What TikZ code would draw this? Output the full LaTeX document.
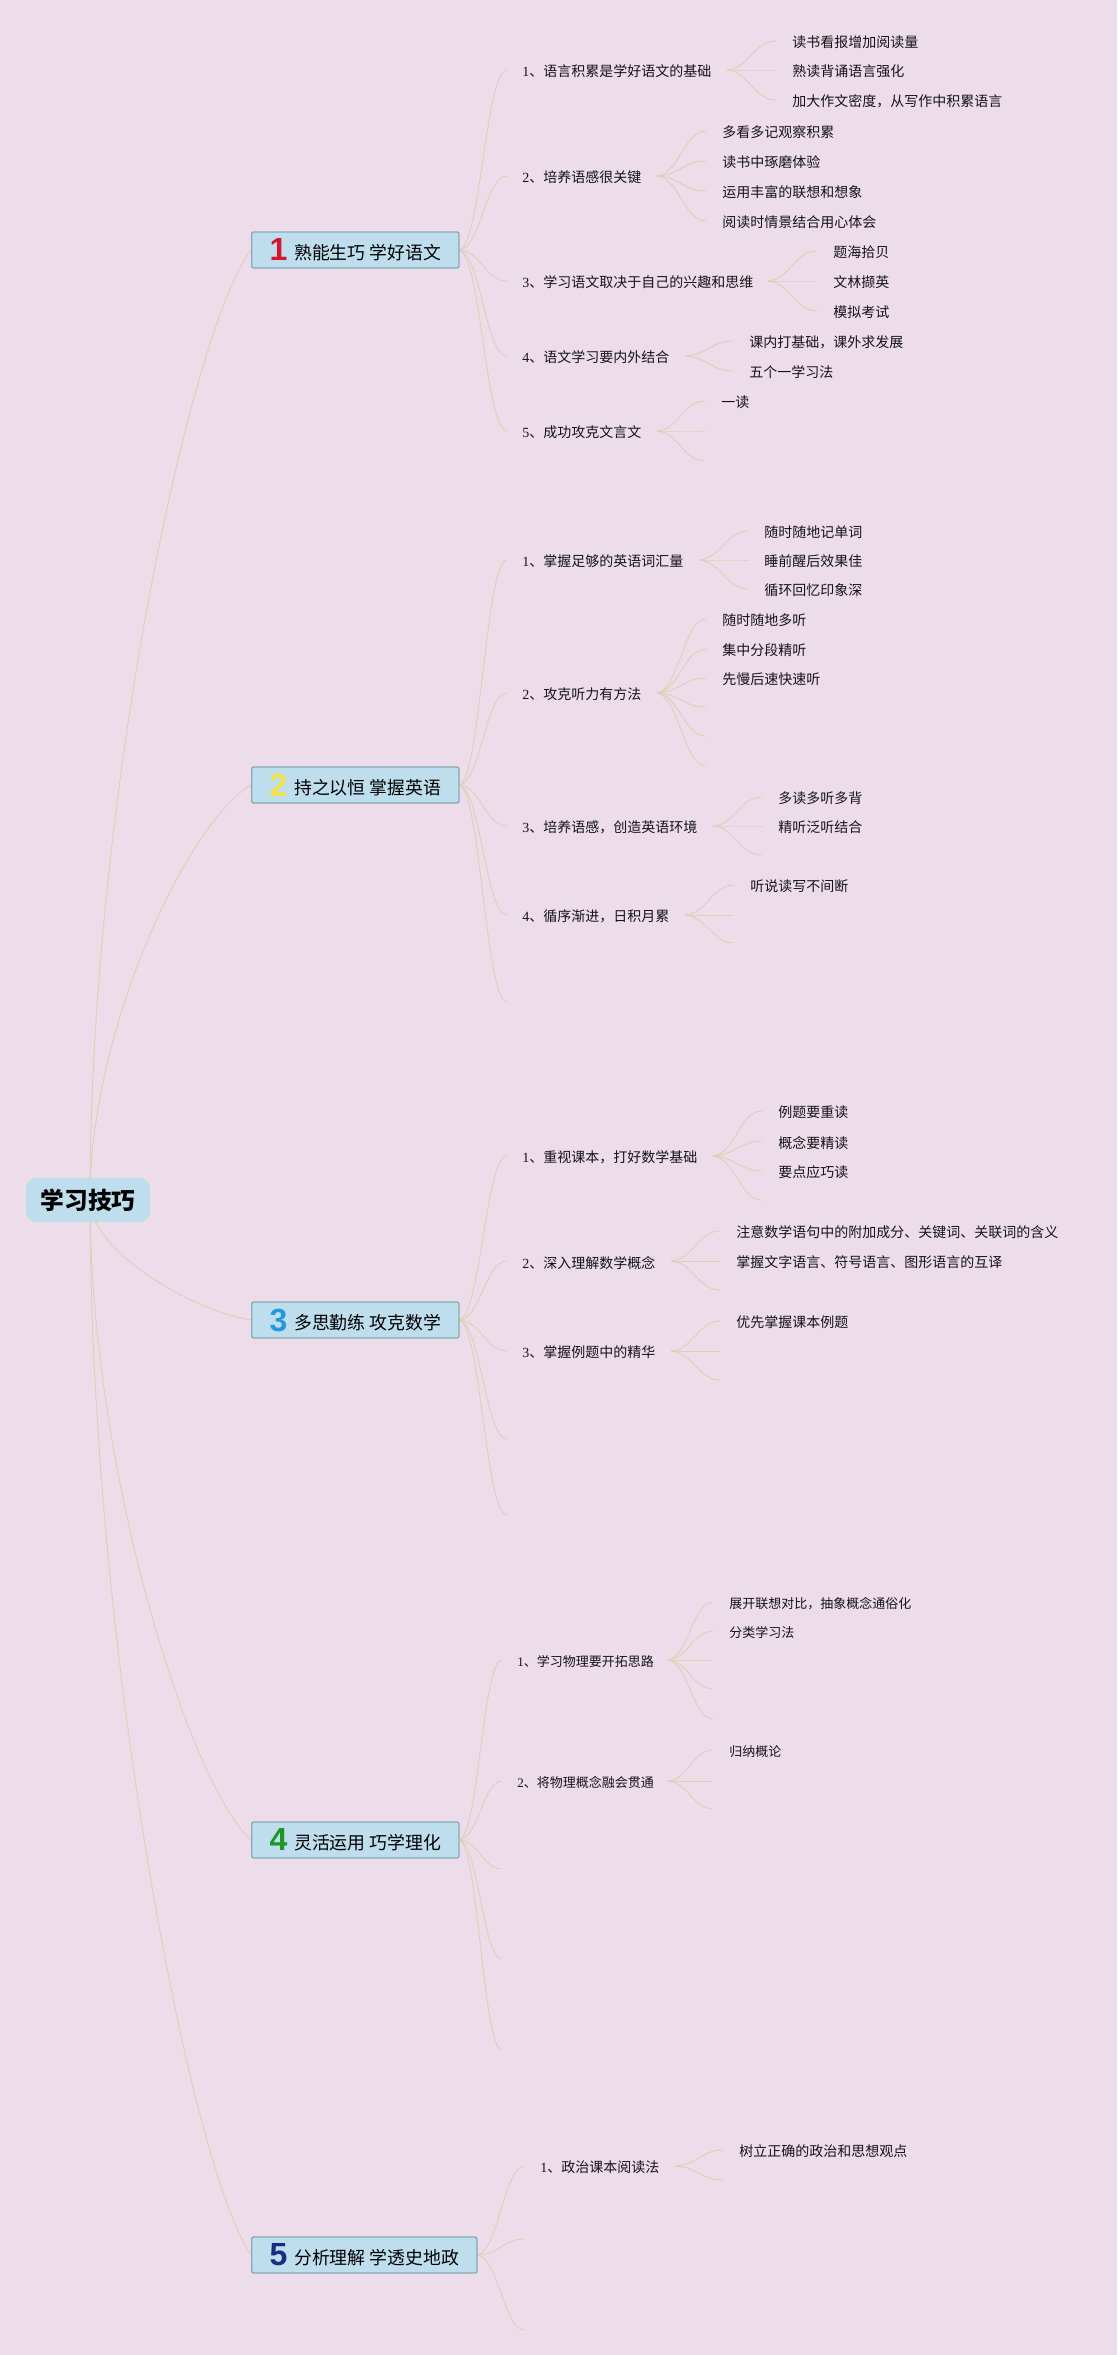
\documentclass[tikz,border=0pt]{standalone}
\usepackage{fontspec}
\setmainfont{Liberation Serif}
\newfontfamily\cjk{Noto Sans CJK SC}
\newfontfamily\numfont{Liberation Sans}
\usetikzlibrary{calc}
\pgfdeclarelayer{bg}
\pgfdeclarelayer{paper}
\pgfsetlayers{paper,bg,main}
\definecolor{bgc}{RGB}{237,221,235}
\definecolor{linec}{RGB}{226,206,180}
\definecolor{boxc}{RGB}{190,222,238}
\definecolor{boxb}{RGB}{132,170,182}
\definecolor{nA}{RGB}{214,22,48}
\definecolor{nB}{RGB}{245,226,72}
\definecolor{nC}{RGB}{36,152,220}
\definecolor{nD}{RGB}{28,150,40}
\definecolor{nE}{RGB}{24,44,128}
\definecolor{txt}{RGB}{20,20,20}
\newcommand\lnum[1]{{\rmfamily #1}}
\newcommand\bnum[2]{{\numfont\bfseries\fontsize{24}{24}\selectfont\color{#1}\raisebox{-1pt}{#2}}\hspace{5pt}}
\newcommand\cx[2]{\draw[conn] let \p1=(#1), \p2=(#2) in (\p1) .. controls ({\x1+0.45*(\x2-\x1)},{\y1+0.05*(\y2-\y1)}) and ({\x1+0.55*(\x2-\x1)},\y2) .. (\p2);}
\newcommand\rx[2]{\draw[conn] let \p1=(#1), \p2=(#2) in (\p1) .. controls (\x1,{\y1+0.42*(\y2-\y1)}) and ({\x1+0.62*(\x2-\x1)},{\y2-0.085*(\y2-\y1)}) .. (\p2);}
\newcommand\kid[5]{\coordinate (#1) at (#3,#4); \node[leaf] (#1t) at ({#3+16},#4) {#5}; \begin{pgfonlayer}{bg}\cx{#2}{#1}\end{pgfonlayer}}
\newcommand\ekid[4]{\coordinate (#1) at (#3,#4); \begin{pgfonlayer}{bg}\cx{#2}{#1}\end{pgfonlayer}}
\tikzset{
  rootbox/.style={fill=boxc, rounded corners=7.5pt, minimum width=93pt, minimum height=33pt, inner sep=0pt, font=\cjk\bfseries\fontsize{17.8}{20}\selectfont, text=black},
  mainbox/.style={fill=boxc, draw=boxb, line width=1pt, rounded corners=1.5pt, minimum height=27pt, inner xsep=13.5pt, inner ysep=0pt, anchor=west, font=\cjk\fontsize{13.4}{16}\selectfont, text=black},
  lvtwo/.style={anchor=west, inner sep=0pt, yshift=-1.2pt, font=\cjk\fontsize{10.5}{12}\selectfont, text=txt},
  leaf/.style={lvtwo},
  conn/.style={draw=linec, line width=0.7pt},
}
\begin{document}
\begin{tikzpicture}[x=0.75pt,y=-0.75pt]
\begin{pgfonlayer}{paper}
\fill[bgc] (0,0) rectangle (1117,2355);
\end{pgfonlayer}
\useasboundingbox (0,0) rectangle (1117,2355);

% root
\node[rootbox] (root) at (88,1200) {学习技巧};
\coordinate (o) at (90,1200);

% main boxes
\node[mainbox] (b1) at (251,250) {\bnum{nA}{1}熟能生巧 学好语文};
\node[mainbox] (b2) at (251,785) {\bnum{nB}{2}持之以恒 掌握英语};
\node[mainbox] (b3) at (251,1320) {\bnum{nC}{3}多思勤练 攻克数学};
\node[mainbox] (b4) at (251,1840) {\bnum{nD}{4}灵活运用 巧学理化};
\node[mainbox] (b5) at (251,2255) {\bnum{nE}{5}分析理解 学透史地政};
\begin{pgfonlayer}{bg}
\rx{o}{b1.west} \rx{o}{b2.west} \rx{o}{b3.west} \rx{o}{b4.west} \rx{o}{b5.west}
\end{pgfonlayer}

% ---------- branch 1
\coordinate (p11) at (507,70);  \node[lvtwo] (l11) at (522,70)  {\lnum{1}、语言积累是学好语文的基础};
\coordinate (p12) at (507,176); \node[lvtwo] (l12) at (522,176) {\lnum{2}、培养语感很关键};
\coordinate (p13) at (507,281); \node[lvtwo] (l13) at (522,281) {\lnum{3}、学习语文取决于自己的兴趣和思维};
\coordinate (p14) at (507,356); \node[lvtwo] (l14) at (522,356) {\lnum{4}、语文学习要内外结合};
\coordinate (p15) at (507,431); \node[lvtwo] (l15) at (522,431) {\lnum{5}、成功攻克文言文};
\begin{pgfonlayer}{bg}
\cx{b1.east}{p11} \cx{b1.east}{p12} \cx{b1.east}{p13} \cx{b1.east}{p14} \cx{b1.east}{p15}
\end{pgfonlayer}
\coordinate (q11) at (727,70);
\kid{c111}{q11}{776}{41}{读书看报增加阅读量}
\kid{c112}{q11}{776}{70}{熟读背诵语言强化}
\kid{c113}{q11}{776}{100}{加大作文密度，从写作中积累语言}
\coordinate (q12) at (657,176);
\kid{c121}{q12}{706}{131}{多看多记观察积累}
\kid{c122}{q12}{706}{161}{读书中琢磨体验}
\kid{c123}{q12}{706}{191}{运用丰富的联想和想象}
\kid{c124}{q12}{706}{221}{阅读时情景结合用心体会}
\coordinate (q13) at (768,281);
\kid{c131}{q13}{817}{251}{题海拾贝}
\kid{c132}{q13}{817}{281}{文林撷英}
\kid{c133}{q13}{817}{311}{模拟考试}
\coordinate (q14) at (685,356);
\kid{c141}{q14}{733}{341}{课内打基础，课外求发展}
\kid{c142}{q14}{733}{371}{五个一学习法}
\coordinate (q15) at (657,431);
\kid{c151}{q15}{705}{401}{一读}
\ekid{c152}{q15}{705}{431}
\ekid{c153}{q15}{705}{461}

% ---------- branch 2
\coordinate (p21) at (507,560);  \node[lvtwo] (l21) at (522,560)  {\lnum{1}、掌握足够的英语词汇量};
\coordinate (p22) at (507,693);  \node[lvtwo] (l22) at (522,693)  {\lnum{2}、攻克听力有方法};
\coordinate (p23) at (507,826);  \node[lvtwo] (l23) at (522,826)  {\lnum{3}、培养语感，创造英语环境};
\coordinate (p24) at (507,915);  \node[lvtwo] (l24) at (522,915)  {\lnum{4}、循序渐进，日积月累};
\coordinate (p25) at (507,1002);
\begin{pgfonlayer}{bg}
\cx{b2.east}{p21} \cx{b2.east}{p22} \cx{b2.east}{p23} \cx{b2.east}{p24} \cx{b2.east}{p25}
\end{pgfonlayer}
\coordinate (q21) at (699,560);
\kid{c211}{q21}{748}{531}{随时随地记单词}
\kid{c212}{q21}{748}{560}{睡前醒后效果佳}
\kid{c213}{q21}{748}{589}{循环回忆印象深}
\coordinate (q22) at (657,693);
\kid{c221}{q22}{706}{619}{随时随地多听}
\kid{c222}{q22}{706}{649}{集中分段精听}
\kid{c223}{q22}{706}{678}{先慢后速快速听}
\ekid{c224}{q22}{706}{707}
\ekid{c225}{q22}{706}{736}
\ekid{c226}{q22}{706}{766}
\coordinate (q23) at (713,826);
\kid{c231}{q23}{762}{797}{多读多听多背}
\kid{c232}{q23}{762}{826}{精听泛听结合}
\ekid{c233}{q23}{762}{855}
\coordinate (q24) at (685,915);
\kid{c241}{q24}{734}{885}{听说读写不间断}
\ekid{c242}{q24}{734}{915}
\ekid{c243}{q24}{734}{943}

% ---------- branch 3
\coordinate (p31) at (507,1156); \node[lvtwo] (l31) at (522,1156) {\lnum{1}、重视课本，打好数学基础};
\coordinate (p32) at (507,1261); \node[lvtwo] (l32) at (522,1261) {\lnum{2}、深入理解数学概念};
\coordinate (p33) at (507,1351); \node[lvtwo] (l33) at (522,1351) {\lnum{3}、掌握例题中的精华};
\coordinate (p34) at (507,1439);
\coordinate (p35) at (507,1515);
\begin{pgfonlayer}{bg}
\cx{b3.east}{p31} \cx{b3.east}{p32} \cx{b3.east}{p33} \cx{b3.east}{p34} \cx{b3.east}{p35}
\end{pgfonlayer}
\coordinate (q31) at (713,1156);
\kid{c311}{q31}{762}{1111}{例题要重读}
\kid{c312}{q31}{762}{1141}{概念要精读}
\kid{c313}{q31}{762}{1171}{要点应巧读}
\ekid{c314}{q31}{762}{1200}
\coordinate (q32) at (671,1261);
\kid{c321}{q32}{720}{1231}{注意数学语句中的附加成分、关键词、关联词的含义}
\kid{c322}{q32}{720}{1261}{掌握文字语言、符号语言、图形语言的互译}
\ekid{c323}{q32}{720}{1290}
\coordinate (q33) at (671,1351);
\kid{c331}{q33}{720}{1321}{优先掌握课本例题}
\ekid{c332}{q33}{720}{1351}
\ekid{c333}{q33}{720}{1380}

% ---------- branch 4
\begin{scope}[lvtwo/.style={anchor=west, inner sep=0pt, yshift=-1.2pt, font=\cjk\fontsize{9.75}{12}\selectfont, text=txt}]
\coordinate (p41) at (502,1660); \node[lvtwo] (l41) at (517,1660) {\lnum{1}、学习物理要开拓思路};
\coordinate (p42) at (502,1781); \node[lvtwo] (l42) at (517,1781) {\lnum{2}、将物理概念融会贯通};
\coordinate (p43) at (502,1869);
\coordinate (p44) at (502,1959);
\coordinate (p45) at (502,2050);
\begin{pgfonlayer}{bg}
\cx{b4.east}{p41} \cx{b4.east}{p42} \cx{b4.east}{p43} \cx{b4.east}{p44} \cx{b4.east}{p45}
\end{pgfonlayer}
\coordinate (q41) at (668,1660);
\kid{c411}{q41}{713}{1602}{展开联想对比，抽象概念通俗化}
\kid{c412}{q41}{713}{1631}{分类学习法}
\ekid{c413}{q41}{713}{1660}
\ekid{c414}{q41}{713}{1689}
\ekid{c415}{q41}{713}{1719}
\coordinate (q42) at (668,1781);
\kid{c421}{q42}{713}{1750}{归纳概论}
\ekid{c422}{q42}{713}{1781}
\ekid{c423}{q42}{713}{1809}
\end{scope}

% ---------- branch 5
\coordinate (p51) at (525,2166); \node[lvtwo] (l51) at (540,2166) {\lnum{1}、政治课本阅读法};
\coordinate (p52) at (525,2239);
\coordinate (p53) at (525,2330);
\begin{pgfonlayer}{bg}
\cx{b5.east}{p51} \cx{b5.east}{p52} \cx{b5.east}{p53}
\end{pgfonlayer}
\coordinate (q51) at (675,2166);
\kid{c511}{q51}{723}{2150}{树立正确的政治和思想观点}
\ekid{c512}{q51}{723}{2180}
\end{tikzpicture}
\end{document}
